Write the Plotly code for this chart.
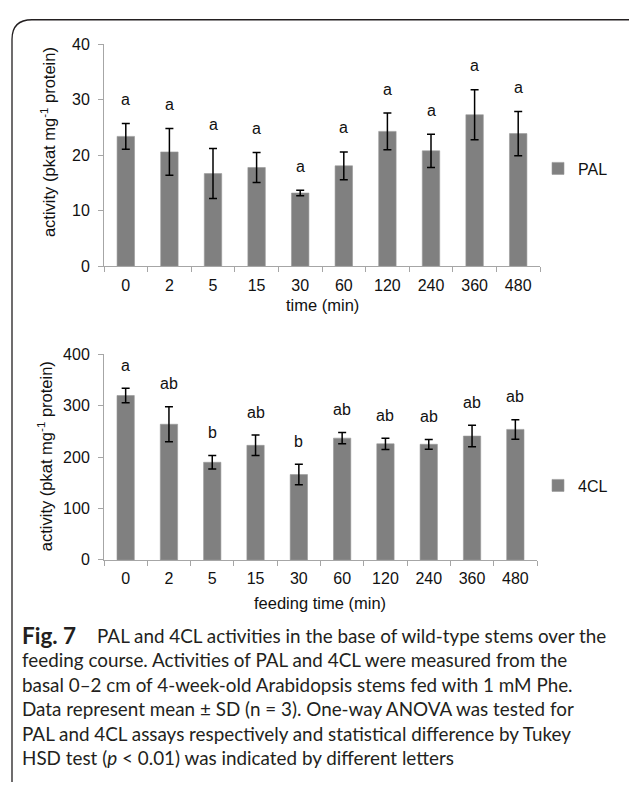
import plotly.graph_objects as go

# Feeding time points (min)
times = ["0", "2", "5", "15", "30", "60", "120", "240", "360", "480"]

# PAL activity, mean and SD (pkat mg-1 protein)
pal_mean = [23.4, 20.6, 16.7, 17.8, 13.2, 18.1, 24.3, 20.8, 27.3, 23.9]
pal_sd = [2.3, 4.2, 4.5, 2.7, 0.5, 2.5, 3.3, 3.0, 4.5, 4.0]
pal_letters = ["a", "a", "a", "a", "a", "a", "a", "a", "a", "a"]

# 4CL activity, mean and SD (pkat mg-1 protein)
cl_mean = [320, 264, 190, 223, 166, 237, 226, 225, 241, 254]
cl_sd = [14, 34, 13, 20, 20, 11, 11, 9.5, 21, 19]
cl_letters = ["a", "ab", "b", "ab", "b", "ab", "ab", "ab", "ab", "ab"]

W, H = 629, 791
FONT = "Liberation Sans, Arial, sans-serif"
BAR = "#808080"
AXIS = "#a6a6a6"
TXT = "#111111"


def px(x):
    return x / W


def py(y):
    return 1 - y / H


fig = go.Figure()

fig.add_trace(go.Bar(
    x=times, y=pal_mean, name="PAL", width=0.4,
    marker=dict(color=BAR, line=dict(color="#999999", width=0.6)),
    error_y=dict(type="data", array=pal_sd, color="#000000", thickness=1.5, width=4),
    xaxis="x", yaxis="y", legend="legend",
))
fig.add_trace(go.Bar(
    x=times, y=cl_mean, name="4CL", width=0.4,
    marker=dict(color=BAR, line=dict(color="#999999", width=0.6)),
    error_y=dict(type="data", array=cl_sd, color="#000000", thickness=1.5, width=4),
    xaxis="x2", yaxis="y2", legend="legend2",
))

# significance letters above the error bars (x given as category index)
annotations = []
for i, (m, s, lab) in enumerate(zip(pal_mean, pal_sd, pal_letters)):
    annotations.append(dict(x=i, y=m + s, xref="x", yref="y", text=lab, showarrow=False,
                            xanchor="center", yanchor="middle", yshift=24,
                            font=dict(family=FONT, size=16, color=TXT)))
for i, (m, s, lab) in enumerate(zip(cl_mean, cl_sd, cl_letters)):
    annotations.append(dict(x=i, y=m + s, xref="x2", yref="y2", text=lab, showarrow=False,
                            xanchor="center", yanchor="middle", yshift=23,
                            font=dict(family=FONT, size=16, color=TXT)))

# axis titles
ytitle = "activity (pkat mg<sup>-1</sup> protein)"
title_font = dict(family=FONT, size=16.5, color=TXT)
annotations += [
    dict(x=px(48), y=py(137), xref="paper", yref="paper", text=ytitle, textangle=-90,
         xanchor="center", yanchor="middle", showarrow=False, font=title_font),
    dict(x=px(45), y=py(458), xref="paper", yref="paper", text=ytitle, textangle=-90,
         xanchor="center", yanchor="middle", showarrow=False, font=title_font),
    dict(x=px(322), y=py(304), xref="paper", yref="paper", text="time (min)",
         xanchor="center", yanchor="middle", showarrow=False, font=title_font),
    dict(x=px(320), y=py(608), xref="paper", yref="paper", text="feeding time (min)",
         xanchor="center", yanchor="middle", showarrow=False, font=title_font),
]

# figure caption
CAP = "Lato, sans-serif"
CAP_COLOR = "#231f20"
annotations.append(dict(x=px(20), y=py(641), xref="paper", yref="paper", text="<b>Fig. 7</b>",
                        showarrow=False, xanchor="left", yanchor="middle",
                        font=dict(family=CAP, size=22.5, color=CAP_COLOR)))
caption = [
    "PAL and 4CL activities in the base of wild-type stems over the",
    "feeding course. Activities of PAL and 4CL were measured from the",
    "basal 0–2 cm of 4-week-old Arabidopsis stems fed with 1 mM Phe.",
    "Data represent mean ± SD (n = 3). One-way ANOVA was tested for",
    "PAL and 4CL assays respectively and statistical difference by Tukey",
    "HSD test (<i>p</i> < 0.01) was indicated by different letters",
]
for i, line in enumerate(caption):
    annotations.append(dict(x=px(95 if i == 0 else 20), y=py(641 + 25 * i), xref="paper", yref="paper",
                            text=line, showarrow=False, xanchor="left", yanchor="middle",
                            font=dict(family=CAP, size=18.85, color=CAP_COLOR)))

axis_common = dict(showline=True, linecolor=AXIS, linewidth=1, ticks="outside", ticklen=5,
                   tickcolor=AXIS, showgrid=False, zeroline=False,
                   tickfont=dict(family=FONT, size=16, color=TXT))

fig.update_layout(
    width=W, height=H, autosize=False,
    margin=dict(l=0, r=0, t=0, b=0, pad=0),
    paper_bgcolor="white", plot_bgcolor="white",
    xaxis=dict(domain=[px(104), px(540)], anchor="y", type="category",
               categoryorder="array", categoryarray=times, range=[-0.5, 9.5],
               tickson="boundaries", tickangle=0, ticklabelstandoff=4, **axis_common),
    yaxis=dict(domain=[py(264), py(37)], anchor="x", range=[0, 40], dtick=10,
               ticklabelstandoff=5, **axis_common),
    xaxis2=dict(domain=[px(104), px(537)], anchor="y2", type="category",
                categoryorder="array", categoryarray=times, range=[-0.5, 9.5],
                tickson="boundaries", tickangle=0, ticklabelstandoff=4, **axis_common),
    yaxis2=dict(domain=[py(564), py(354)], anchor="x2", range=[0, 400], dtick=100,
                ticklabelstandoff=5, **axis_common),
    legend=dict(x=px(538), y=py(164), xanchor="left", yanchor="middle",
                font=dict(family=FONT, size=16, color=TXT), bgcolor="rgba(0,0,0,0)"),
    legend2=dict(x=px(538), y=py(488), xanchor="left", yanchor="middle",
                 font=dict(family=FONT, size=16, color=TXT), bgcolor="rgba(0,0,0,0)"),
    showlegend=True,
    annotations=annotations,
    shapes=[
        # rounded frame around the figure panel
        dict(type="path", xref="paper", yref="paper",
             path=(f"M {px(12)},{py(791)} L {px(12)},{py(32)} "
                   f"Q {px(12)},{py(12)} {px(32)},{py(12)} L {px(629)},{py(12)}"),
             line=dict(color="#231f20", width=1.3)),
    ],
)

fig.write_html("out.html")
